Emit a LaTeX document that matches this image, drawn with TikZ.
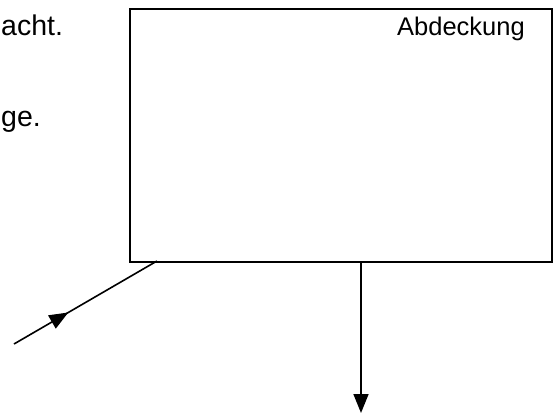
\documentclass[tikz,border=0pt]{standalone}
\usepackage{fontspec}
\setmainfont{Liberation Sans}
\usetikzlibrary{arrows.meta,decorations.markings}
\tikzset{
  lbl/.style={inner sep=0pt, font=\fontsize{25.5}{30}\selectfont},
  sidetext/.style={inner sep=0pt, font=\fontsize{28.5}{34}\selectfont},
  coverbox/.style={draw, line width=2pt, inner sep=0pt},
  flow/.style={line width=1.6pt},
  tip/.style={-{Triangle[length=19pt,width=15pt]}},
  midtip/.style={postaction={decorate}, decoration={markings,
    mark=at position #1 with {\arrow{Triangle[length=19pt,width=15pt]}}}}
}
\begin{document}
\begin{tikzpicture}[x=1pt,y=-1pt]
  \useasboundingbox (0,0) rectangle (554,414);
  % line ends of the running text on the left
  \node[sidetext, anchor=base west] (t1) at (1,36) {acht.};
  \node[sidetext, anchor=base west] (t2) at (1,127) {ge.};
  % the cover box
  \node[coverbox, minimum width=422pt, minimum height=253pt, anchor=north west] (cover) at (129,8) {};
  \node[lbl, anchor=base east] (name) at (525,36) {Abdeckung};
  % incoming and outgoing lines
  \coordinate (inA) at (157,261);
  \coordinate (inB) at (14,344);
  \coordinate (outA) at (361,261);
  \coordinate (outB) at (361,413);
  \draw[flow, midtip=0.38] (inB) -- (inA);
  \draw[flow, tip] (outA) -- (outB);
\end{tikzpicture}
\end{document}
